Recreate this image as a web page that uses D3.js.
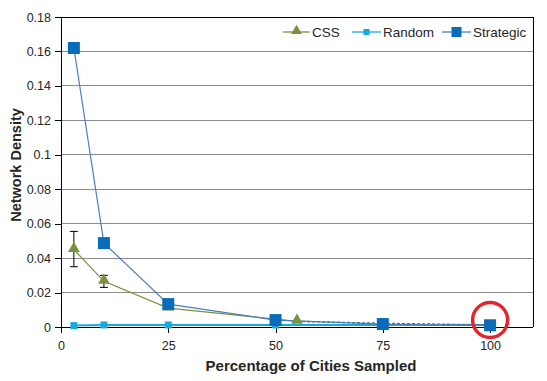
<!DOCTYPE html>
<html><head><meta charset="utf-8">
<script src="https://cdn.jsdelivr.net/npm/d3@7"></script>
<style>body{margin:0;background:#fff}svg{display:block;font-family:"Liberation Sans",Arial,sans-serif}</style>
</head><body><svg id="c" width="547" height="381"></svg>
<script>
const xTicks = [0, 25, 50, 75, 100];
const yTicks = [0, 0.02, 0.04, 0.06, 0.08, 0.1, 0.12, 0.14, 0.16, 0.18];
const cssX = [3, 10, 25, 55];
const cssY = [0.045, 0.0265, 0.011, 0.0033];
const cssErrLow = [0.035, 0.023, null, null];
const cssErrHigh = [0.0555, 0.0300, null, null];
const cssTailX = [55, 75, 100];
const cssTailY = [0.0033, 0.0021, 0.0012];
const randomX = [3, 10, 25, 50, 75, 100];
const randomY = [0.0008, 0.0012, 0.0012, 0.0012, 0.0012, 0.0012];
const strategicX = [3, 10, 25, 50, 75, 100];
const strategicY = [0.162, 0.0487, 0.0133, 0.0040, 0.0017, 0.0010];
const legendNames = ["CSS", "Random", "Strategic"];

const svg = d3.select("#c");
const L = 61, R = 533, T = 17, B = 327;
const x = d3.scaleLinear().domain([0, 110]).range([L, R]);
const y = d3.scaleLinear().domain([0, 0.18]).range([B, T]);

svg.append("g").selectAll("line").data(yTicks.slice(1)).join("line")
  .attr("x1", L).attr("x2", R).attr("y1", d => y(d)).attr("y2", d => y(d))
  .attr("stroke", "#8c8c8c").attr("stroke-width", 1).attr("shape-rendering", "crispEdges");
svg.append("line").attr("x1", L).attr("x2", R).attr("y1", T).attr("y2", T).attr("stroke", "#000").attr("shape-rendering", "crispEdges");
svg.append("line").attr("x1", R).attr("x2", R).attr("y1", T).attr("y2", B).attr("stroke", "#000").attr("shape-rendering", "crispEdges");

const yAxis = d3.axisLeft(y).tickValues(yTicks).tickSize(6).tickPadding(4).tickFormat(d => d3.format("")(+d.toFixed(2)));
const gy = svg.append("g").attr("transform", `translate(${L},0)`).call(yAxis);
const xAxis = d3.axisBottom(x).tickValues(xTicks).tickSize(6).tickPadding(8);
const gx = svg.append("g").attr("transform", `translate(0,${B})`).call(xAxis);
[gx, gy].forEach(g => {
  g.select(".domain").attr("stroke", "#000").attr("shape-rendering", "crispEdges");
  g.selectAll(".tick line").attr("stroke", "#000").attr("shape-rendering", "crispEdges");
  g.selectAll("text").attr("font-size", 12.5).attr("fill", "#262626").attr("font-family", "Liberation Sans, Arial, sans-serif");
});
gx.select(".domain").attr("d", `M${L},0H${R}`);
gy.select(".domain").attr("d", `M0,${T}V${B}`);

const line = d3.line().x(d => x(d[0])).y(d => y(d[1]));
const cGreen = "#77933c", cLight = "#16a9e0", cBlue = "#0a6cb8", cBlueLine = "#4a7fbf";

const rnd = randomX.map((v, i) => [v, randomY[i]]);
svg.append("path").attr("d", line(rnd)).attr("fill", "none").attr("stroke", cLight).attr("stroke-width", 2);
const tail = cssTailX.map((v, i) => [v, cssTailY[i]]);
svg.append("path").attr("d", line(tail)).attr("fill", "none").attr("stroke", "#4e6a86").attr("stroke-width", 1.5).attr("stroke-dasharray", "3,2");
const css = cssX.map((v, i) => [v, cssY[i]]);
svg.append("path").attr("d", line(css)).attr("fill", "none").attr("stroke", cGreen).attr("stroke-width", 1.2);
const st = strategicX.map((v, i) => [v, strategicY[i]]);
svg.append("path").attr("d", line(st)).attr("fill", "none").attr("stroke", cBlueLine).attr("stroke-width", 1.2);

cssX.forEach((v, i) => {
  if (cssErrLow[i] == null) return;
  const g = svg.append("g").attr("stroke", "#000").attr("stroke-width", 1);
  g.append("line").attr("x1", x(v)).attr("x2", x(v)).attr("y1", y(cssErrLow[i])).attr("y2", y(cssErrHigh[i]));
  g.append("line").attr("x1", x(v) - 4).attr("x2", x(v) + 4).attr("y1", y(cssErrLow[i])).attr("y2", y(cssErrLow[i]));
  g.append("line").attr("x1", x(v) - 4).attr("x2", x(v) + 4).attr("y1", y(cssErrHigh[i])).attr("y2", y(cssErrHigh[i]));
});

const tri = d3.symbol().type(d3.symbolTriangle).size(60);
svg.append("g").selectAll("rect").data(rnd).join("rect")
  .attr("x", d => x(d[0]) - 3.5).attr("y", d => y(d[1]) - 3.5).attr("width", 7).attr("height", 7).attr("fill", cLight);
svg.append("g").selectAll("path").data(css).join("path")
  .attr("d", tri).attr("transform", d => `translate(${x(d[0])},${y(d[1]) - 1})`).attr("fill", cGreen);
svg.append("g").selectAll("rect").data(st).join("rect")
  .attr("x", d => x(d[0]) - 6).attr("y", d => y(d[1]) - 6).attr("width", 12).attr("height", 12).attr("fill", cBlue);

svg.append("circle").attr("cx", x(100)).attr("cy", 320).attr("r", 17.5)
  .attr("fill", "none").attr("stroke", "#e3262d").attr("stroke-width", 3.5);

const leg = [
  {name: legendNames[0], x0: 283, tx: 312, color: cGreen, lc: cGreen, m: "tri"},
  {name: legendNames[1], x0: 352, tx: 383, color: cLight, lc: cLight, m: "small"},
  {name: legendNames[2], x0: 442, tx: 473, color: cBlue, lc: cBlueLine, m: "big"}
];
const ly = 32;
leg.forEach(d => {
  svg.append("line").attr("x1", d.x0).attr("x2", d.tx - 2).attr("y1", ly).attr("y2", ly).attr("stroke", d.lc).attr("stroke-width", 1.3);
  const cx = (d.x0 + d.tx - 2) / 2;
  if (d.m === "tri") svg.append("path").attr("d", d3.symbol().type(d3.symbolTriangle).size(50)).attr("transform", `translate(${cx},${ly - 1})`).attr("fill", d.color);
  else if (d.m === "small") svg.append("rect").attr("x", cx - 3).attr("y", ly - 3).attr("width", 6).attr("height", 6).attr("fill", d.color);
  else svg.append("rect").attr("x", cx - 5).attr("y", ly - 5).attr("width", 10).attr("height", 10).attr("fill", d.color);
  svg.append("text").attr("x", d.tx).attr("y", ly + 4.5).attr("font-size", 13.5).attr("fill", "#262626").text(d.name);
});

svg.append("text").attr("x", 311).attr("y", 371).attr("text-anchor", "middle").attr("font-size", 15).attr("font-weight", "bold").attr("fill", "#262626").text("Percentage of Cities Sampled");
svg.append("text").attr("transform", "translate(21,165) rotate(-90)").attr("text-anchor", "middle").attr("font-size", 14.5).attr("font-weight", "bold").attr("fill", "#262626").text("Network Density");
</script></body></html>
